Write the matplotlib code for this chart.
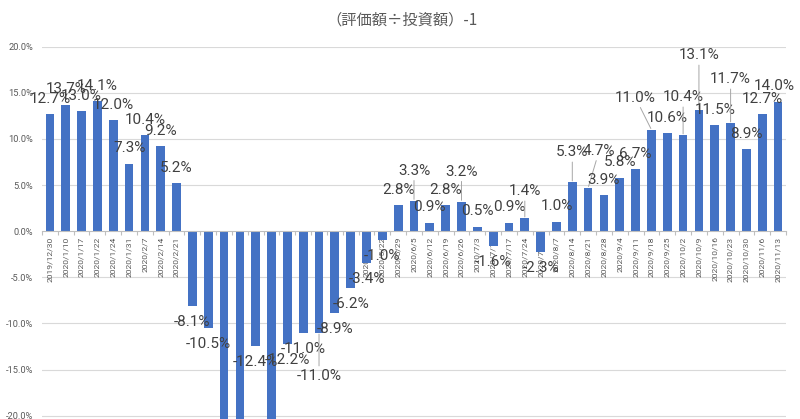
import matplotlib
matplotlib.use('Agg')
import matplotlib.pyplot as plt
from matplotlib.ticker import FixedLocator, FuncFormatter

dates = ["2019/12/30", "2020/1/10", "2020/1/17", "2020/1/22", "2020/1/24", "2020/1/31",
         "2020/2/7", "2020/2/14", "2020/2/21", "2020/2/28", "2020/3/6", "2020/3/13",
         "2020/3/20", "2020/3/27", "2020/4/3", "2020/4/10", "2020/4/17", "2020/4/24",
         "2020/5/1", "2020/5/8", "2020/5/15", "2020/5/22", "2020/5/29", "2020/6/5",
         "2020/6/12", "2020/6/19", "2020/6/26", "2020/7/3", "2020/7/10", "2020/7/17",
         "2020/7/24", "2020/7/31", "2020/8/7", "2020/8/14", "2020/8/21", "2020/8/28",
         "2020/9/4", "2020/9/11", "2020/9/18", "2020/9/25", "2020/10/2", "2020/10/9",
         "2020/10/16", "2020/10/23", "2020/10/30", "2020/11/6", "2020/11/13"]

values = [12.7, 13.7, 13.0, 14.1, 12.0, 7.3, 10.4, 9.2, 5.2, -8.1, -10.5, -25.0,
          -27.0, -12.4, -23.0, -12.2, -11.0, -11.0, -8.9, -6.2, -3.4, -1.0, 2.8, 3.3,
          0.9, 2.8, 3.2, 0.5, -1.6, 0.9, 1.4, -2.3, 1.0, 5.3, 4.7, 3.9,
          5.8, 6.7, 11.0, 10.6, 10.4, 13.1, 11.5, 11.7, 8.9, 12.7, 14.0]

y_ticks = [-20, -15, -10, -5, 0, 5, 10, 15, 20]
title = "（評価額÷投資額）-1"

# style: label placement tweaks (pixel offsets from bar end) and leader lines
label_shift = {17: (0, -43), 23: (0, 30), 26: (0, 30), 30: (0, 27), 33: (0, 30),
               34: (11, 37), 38: (-16, 32), 40: (0, 38), 41: (0, 55), 43: (0, 44),
               46: (-4, 15.6)}
leaders = {17, 23, 26, 30, 33, 34, 38, 40, 41, 43}

fig = plt.figure(figsize=(8, 4.19), dpi=100)
fig.patch.set_facecolor('white')
ax = fig.add_axes([42 / 800, 0.0, 744 / 800, 372.3 / 419])

x = list(range(len(values)))
ax.bar(x, values, width=0.55, color='#4472C4', zorder=2)

for yv in y_ticks:
    if yv != 0:
        ax.axhline(yv, color='#D9D9D9', lw=0.8, zorder=0)

ax.set_xlim(-0.5, len(values) - 0.5)
ax.set_ylim(-20.36, 20)

for s in ['top', 'right', 'left']:
    ax.spines[s].set_visible(False)
ax.spines['bottom'].set_position(('data', 0))
ax.spines['bottom'].set_color('#BFBFBF')
ax.spines['bottom'].set_linewidth(0.8)

ax.yaxis.set_major_locator(FixedLocator(y_ticks))
ax.yaxis.set_major_formatter(FuncFormatter(lambda v, p: f"{v:.1f}%"))
ax.tick_params(axis='y', length=0, pad=6.5, labelsize=6.7, labelcolor='#595959')
for t in ax.get_yticklabels():
    t.set_fontfamily('Roboto')

ax.set_xticks(x)
ax.set_xticklabels(dates, rotation=90, fontsize=6.1, color='#595959', family='Roboto')
ax.set_xticks([i + 0.5 for i in range(-1, len(values))], minor=True)
ax.tick_params(axis='x', which='major', length=0, pad=3.8)
ax.tick_params(axis='x', which='minor', length=3, color='#BFBFBF', width=0.8)

for i, v in enumerate(values):
    dx, dy = label_shift.get(i, (0, 15.5 if v >= 0 else -16))
    arrow = None
    if i in leaders:
        arrow = dict(arrowstyle='-', color='#A6A6A6', lw=0.7, shrinkA=0, shrinkB=1)
    ax.annotate(f"{v:.1f}%", xy=(i, v), xytext=(dx, dy), textcoords='offset pixels',
                ha='center', va='center', fontsize=11, color='#404040',
                family='Roboto', zorder=5, arrowprops=arrow)

fig.text(402 / 800, 1 - 20 / 419, title, ha='center', va='center', fontsize=11,
         color='#595959', family=['Noto Sans CJK JP', 'DejaVu Sans'])

fig.savefig('out.png', dpi=100, facecolor='white')
